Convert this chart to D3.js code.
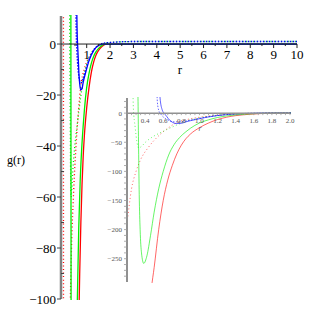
<!DOCTYPE html>
<html>
<head>
<meta charset="utf-8">
<script src="https://cdn.jsdelivr.net/npm/d3@7"></script>
<style>
body { margin: 0; background: #fff; }
</style>
</head>
<body>
<svg></svg>
<script>
// values, [r, g(r)]
const redDotted = [[0.004, 60], [0.014, -400], [0.1, -320], [0.2, -190], [0.25, -130], [0.3, -100], [0.35, -80], [0.44, -58],
	[0.556, -38], [0.65, -26], [0.74, -17], [0.89, -10], [1.0, -7], [1.2, -3.5], [1.4, -1.5], [1.6, -0.4], [1.8, 0], [2.2, 0], [10, 0]]
const greenDotted = [[0.262, 80], [0.27, 10], [0.29, -24], [0.31, -50], [0.33, -60], [0.36, -57], [0.41, -49], [0.48, -41],
	[0.59, -32], [0.74, -21], [0.89, -12], [1.0, -8], [1.2, -3.5], [1.4, -1.3], [1.6, -0.2], [1.8, 0.3], [2.0, 0.6], [2.5, 0.9], [3, 1], [10, 1]]
const blueDotted = [[0.525, 80], [0.535, 20], [0.55, 5], [0.58, -3], [0.62, -9], [0.67, -13], [0.72, -15], [0.78, -15],
	[0.85, -13.5], [0.95, -10.5], [1.1, -6.2], [1.3, -2.4], [1.5, -0.5], [1.7, 0.3], [2.0, 0.6], [2.5, 0.9], [3, 1], [10, 1]]
const redSolid = [[0.45, -330], [0.47, -300], [0.5, -265], [0.55, -200], [0.6, -150], [0.65, -115], [0.7, -90], [0.75, -70],
	[0.8, -55], [0.85, -44], [0.9, -36], [1.0, -25], [1.1, -17], [1.2, -11], [1.3, -7], [1.4, -4.3], [1.5, -2.6], [1.65, -1],
	[1.8, -0.1], [2.2, 0], [10, 0]]
const greenSolid = [[0.312, 400], [0.318, 60], [0.322, 20], [0.328, -60], [0.335, -140], [0.345, -200], [0.36, -240],
	[0.385, -258], [0.42, -245], [0.46, -210], [0.5, -170], [0.55, -130], [0.6, -100], [0.66, -72], [0.72, -54], [0.78, -42],
	[0.85, -32], [0.9, -26], [1.0, -17], [1.1, -11.5], [1.2, -7.5], [1.3, -4.8], [1.4, -3], [1.5, -1.8], [1.65, -0.6], [1.8, 0],
	[2.2, 0], [10, 0]]
const blueSolid = [[0.555, 80], [0.565, 26], [0.59, 5], [0.61, 0], [0.64, -6], [0.67, -12], [0.7, -15.5], [0.74, -18],
	[0.8, -17.5], [0.85, -15], [0.96, -11], [1.1, -6.5], [1.3, -2.5], [1.5, -0.6], [1.7, 0], [2.2, 0], [10, 0]]

const mainXTicks = [1, 2, 3, 4, 5, 6, 7, 8, 9, 10]
const mainYTicks = [0, -20, -40, -60, -80, -100]
const insetXTicks = [0.4, 0.6, 0.8, 1.0, 1.2, 1.4, 1.6, 1.8, 2.0]
const insetYTicks = [0, -50, -100, -150, -200, -250]

const svg = d3.select( 'svg' ).attr( 'width', 309 ).attr( 'height', 309 )
	.attr( 'font-family', '"Liberation Serif", "Times New Roman", serif' )

const curves = [
	{ data: redDotted, color: '#ff0000', dash: '1,2.5' },
	{ data: greenDotted, color: '#00ee00', dash: '1,2.5' },
	{ data: blueDotted, color: '#0000ff', dash: '1.5,1.5' },
	{ data: redSolid, color: '#ff0000', dash: null },
	{ data: greenSolid, color: '#00ee00', dash: null },
	{ data: blueSolid, color: '#0000ff', dash: null }
]

function drawCurves( g, x, y, id, width, opacity ) {
	g.append( 'clipPath' ).attr( 'id', id ).append( 'rect' )
		.attr( 'x', x.range()[0] ).attr( 'y', y.range()[1] - 1 )
		.attr( 'width', x.range()[1] - x.range()[0] + 1 )
		.attr( 'height', y.range()[0] - y.range()[1] + 2 )
	const line = d3.line()
		.x( d => x( d[0] ) )
		.y( d => y( d[1] ) )
		.curve( d3.curveMonotoneX )
	const lines = g.append( 'g' ).attr( 'clip-path', `url(#${id})` )
	curves.forEach( c => {
		lines.append( 'path' )
			.datum( c.data )
			.attr( 'fill', 'none' )
			.attr( 'stroke', c.color )
			.attr( 'stroke-opacity', opacity )
			.attr( 'stroke-width', width )
			.attr( 'stroke-dasharray', c.dash )
			.attr( 'd', line )
	})
}

// main plot
const x = d3.scaleLinear().domain( [-0.1, 10] ).range( [61, 297] ),
	y = d3.scaleLinear().domain( [-100, 11] ).range( [299, 16] )

const main = svg.append( 'g' )
drawCurves( main, x, y, 'clipMain', 1.3, 1 )

main.append( 'line' ) // y as
	.attr( 'x1', 61 ).attr( 'x2', 61 ).attr( 'y1', 16 ).attr( 'y2', 299 )
	.attr( 'stroke', '#808080' ).attr( 'stroke-width', 2.5 )
main.append( 'line' ) // x as
	.attr( 'x1', 61 ).attr( 'x2', 297 ).attr( 'y1', y( 0 ) ).attr( 'y2', y( 0 ) )
	.attr( 'stroke', '#222' ).attr( 'stroke-width', 1 )

main.selectAll( '.xminor' ).data( d3.range( 0.5, 10, 1 ) ).join( 'line' )
	.attr( 'x1', d => x( d ) ).attr( 'x2', d => x( d ) )
	.attr( 'y1', y( 0 ) ).attr( 'y2', y( 0 ) + 2 )
	.attr( 'stroke', '#222' )
main.selectAll( '.xmajor' ).data( mainXTicks ).join( 'line' )
	.attr( 'x1', d => x( d ) ).attr( 'x2', d => x( d ) )
	.attr( 'y1', y( 0 ) ).attr( 'y2', y( 0 ) + 4 )
	.attr( 'stroke', '#222' )
main.selectAll( '.xlab' ).data( mainXTicks ).join( 'text' )
	.attr( 'x', d => x( d ) ).attr( 'y', y( 0 ) + 15 )
	.attr( 'text-anchor', 'middle' ).attr( 'font-size', 13 )
	.text( d => d )

main.selectAll( '.yminor' ).data( d3.range( -10, -100, -20 ) ).join( 'line' )
	.attr( 'x1', 61 ).attr( 'x2', 64 )
	.attr( 'y1', d => y( d ) ).attr( 'y2', d => y( d ) )
	.attr( 'stroke', '#444' )
main.selectAll( '.ymajor' ).data( mainYTicks ).join( 'line' )
	.attr( 'x1', 57 ).attr( 'x2', 61 )
	.attr( 'y1', d => y( d ) ).attr( 'y2', d => y( d ) )
	.attr( 'stroke', '#444' )
main.selectAll( '.ylab' ).data( mainYTicks ).join( 'text' )
	.attr( 'x', 56 ).attr( 'y', d => y( d ) + 4.5 )
	.attr( 'text-anchor', 'end' ).attr( 'font-size', 13 )
	.text( d => d === 0 ? '0' : '\u2212' + Math.abs( d ) )

main.append( 'text' ).attr( 'x', 180 ).attr( 'y', 74 )
	.attr( 'text-anchor', 'middle' ).attr( 'font-size', 13 ).text( 'r' )
main.append( 'text' ).attr( 'x', 7 ).attr( 'y', 164 )
	.attr( 'font-size', 12 ).text( 'g(r)' )

// inset
const xi = d3.scaleLinear().domain( [0.2, 2.0] ).range( [127, 290] ),
	yi = d3.scaleLinear().domain( [-290, 26] ).range( [282, 98] )

const inset = svg.append( 'g' )
drawCurves( inset, xi, yi, 'clipInset', 1, 0.6 )

inset.append( 'line' )
	.attr( 'x1', 127 ).attr( 'x2', 127 ).attr( 'y1', 98 ).attr( 'y2', 282 )
	.attr( 'stroke', '#909090' ).attr( 'stroke-width', 2 )
inset.append( 'line' )
	.attr( 'x1', 127 ).attr( 'x2', 290 ).attr( 'y1', yi( 0 ) ).attr( 'y2', yi( 0 ) )
	.attr( 'stroke', '#909090' ).attr( 'stroke-width', 1.5 )

inset.selectAll( '.xt' ).data( d3.range( 0.25, 2.01, 0.05 ) ).join( 'line' )
	.attr( 'x1', d => xi( d ) ).attr( 'x2', d => xi( d ) )
	.attr( 'y1', yi( 0 ) ).attr( 'y2', yi( 0 ) + 2 )
	.attr( 'stroke', '#999' ).attr( 'stroke-width', 0.8 )
inset.selectAll( '.xl' ).data( insetXTicks ).join( 'text' )
	.attr( 'x', d => xi( d ) ).attr( 'y', yi( 0 ) + 10 )
	.attr( 'text-anchor', 'middle' ).attr( 'font-size', 7 ).attr( 'fill', '#555' )
	.text( d => d.toFixed( 1 ) )

inset.selectAll( '.yt' ).data( d3.range( 20, -290, -10 ) ).join( 'line' )
	.attr( 'x1', 124 ).attr( 'x2', 127 )
	.attr( 'y1', d => yi( d ) ).attr( 'y2', d => yi( d ) )
	.attr( 'stroke', '#999' ).attr( 'stroke-width', 0.8 )
inset.selectAll( '.yl' ).data( insetYTicks ).join( 'text' )
	.attr( 'x', 122 ).attr( 'y', d => yi( d ) + 2.5 )
	.attr( 'text-anchor', 'end' ).attr( 'font-size', 7 ).attr( 'fill', '#555' )
	.text( d => d === 0 ? '0' : '\u2212' + Math.abs( d ) )

inset.append( 'text' ).attr( 'x', 200 ).attr( 'y', 131 )
	.attr( 'text-anchor', 'middle' ).attr( 'font-size', 7.5 ).attr( 'font-style', 'italic' )
	.attr( 'fill', '#555' ).text( 'r' )
</script>
</body>
</html>
